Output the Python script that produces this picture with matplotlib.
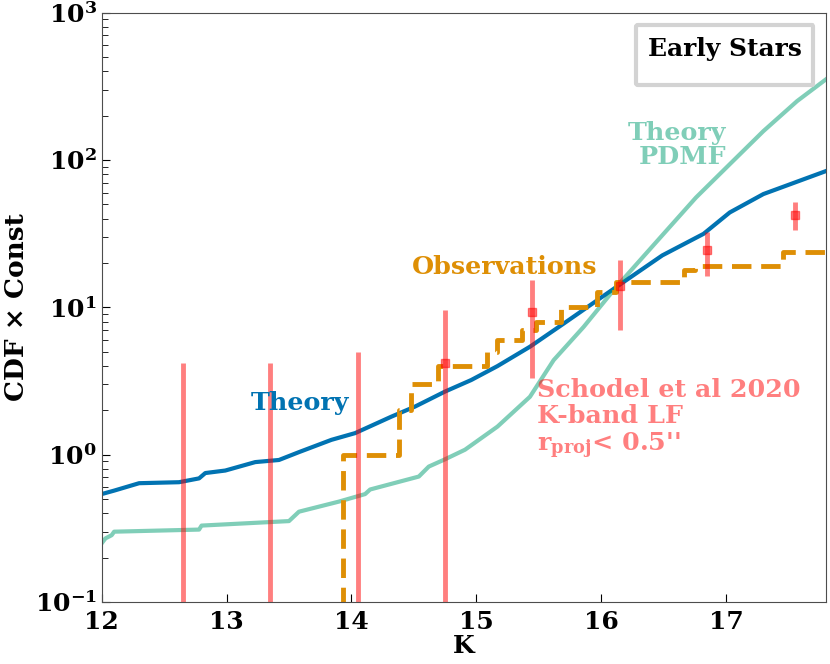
import numpy as np
import matplotlib
matplotlib.use('Agg')
import matplotlib.pyplot as plt
from matplotlib.lines import Line2D

# data
theory_k = [12.0, 12.1, 12.3, 12.62, 12.78, 12.83, 12.99, 13.23, 13.42, 13.58, 13.84, 14.03,
            14.32, 14.51, 14.75, 14.96, 15.17, 15.43, 15.70, 16.12, 16.49, 16.82, 17.03, 17.30, 17.8]
theory_v = [0.54, 0.57, 0.64, 0.65, 0.69, 0.75, 0.78, 0.89, 0.92, 1.04, 1.26, 1.40,
            1.81, 2.12, 2.68, 3.21, 3.99, 5.4, 7.75, 13.7, 22.5, 31.5, 44, 58.7, 84]

pdmf_k = [12.0, 12.03, 12.08, 12.1, 12.78, 12.8, 13.5, 13.58, 13.9, 14.11, 14.15, 14.54, 14.62,
          14.75, 14.91, 15.17, 15.43, 15.62, 15.86, 16.12, 16.50, 16.76, 17.03, 17.30, 17.57, 17.8]
pdmf_v = [0.25, 0.27, 0.284, 0.30, 0.31, 0.33, 0.354, 0.41, 0.48, 0.54, 0.58, 0.71, 0.83,
          0.93, 1.08, 1.55, 2.47, 4.38, 7.36, 13.7, 31.5, 55.6, 93.5, 157, 251, 352]

obs_k = [12.0, 13.93, 14.38, 14.48, 14.69, 15.09, 15.17, 15.37, 15.48, 15.68, 15.97, 16.12,
         16.66, 16.75, 17.46, 17.8]
obs_v = [0, 1, 2, 3, 4, 5, 6, 7, 8, 10, 12.7, 14.8, 17.8, 19.2, 23.8, 23.8]

lf_k = [12.65, 13.35, 14.05, 14.75, 15.45, 16.15, 16.85, 17.55]
lf_v = [0, 0, 0, 4.2, 9.3, 14, 24.3, 42.5]
lf_err = [4.2, 4.2, 5.0, 5.4, 6.0, 7.0, 8.0, 9.2]

plt.rcParams['font.family'] = 'DejaVu Serif'
plt.rcParams['font.weight'] = 'bold'
plt.rcParams['axes.labelweight'] = 'bold'
plt.rcParams['mathtext.fontset'] = 'dejavuserif'
plt.rcParams['mathtext.default'] = 'bf'

blue = '#0173b2'
teal = '#029e73'
orange = '#de8f05'

fig = plt.figure(figsize=(8.3, 6.64), dpi=100)
ax = fig.add_axes([0.1225, 0.0934, 0.8725, 0.8876])

ax.plot(theory_k, theory_v, color=blue, lw=3)
ax.plot(pdmf_k, pdmf_v, color=teal, lw=3, alpha=0.5)
ax.plot(obs_k, obs_v, color=orange, lw=3.5, ls='--', dashes=(4, 2), drawstyle='steps-post')
ax.errorbar(lf_k, lf_v, yerr=lf_err, fmt='s', color='red', alpha=0.5, ms=6, elinewidth=3.5)

ax.set_yscale('log')
ax.set_xlim(12, 17.8)
ax.set_ylim(0.1, 1000)
ax.set_xlabel('K', fontsize=18, labelpad=0)
ax.set_ylabel('CDF × Const', fontsize=19, labelpad=4)
ax.tick_params(which='both', direction='in', labelsize=18)
ax.tick_params(axis='x', pad=6)
ax.tick_params(which='major', length=6)
ax.tick_params(which='minor', length=4)
for s in ax.spines.values():
    s.set_color('0.3')

ax.text(13.59, 2.25, 'Theory', color=blue, fontsize=18.3, ha='center', va='center')
ax.text(15.23, 18.9, 'Observations', color=orange, fontsize=18.3, ha='center', va='center')
ax.text(17.0, 126, 'Theory\nPDMF', color=teal, alpha=0.5, fontsize=18.3, ha='right', va='center',
        multialignment='right', linespacing=1.0)
ax.text(15.485, 3.3, "Schodel et al 2020\nK-band LF\nr$_{proj}$< 0.5''", color='red', alpha=0.5,
        fontsize=18.3, ha='left', va='top', linespacing=1.1)

leg = ax.legend(handles=[Line2D([], [], alpha=0)], labels=[''], title='Early Stars',
                loc='upper right', title_fontproperties={'size': 18, 'weight': 'bold'},
                fancybox=True, framealpha=1, edgecolor='lightgray', fontsize=6,
                borderpad=1.4, borderaxespad=1.5)
leg.get_frame().set_linewidth(3)

fig.savefig('out.png', dpi=100)
